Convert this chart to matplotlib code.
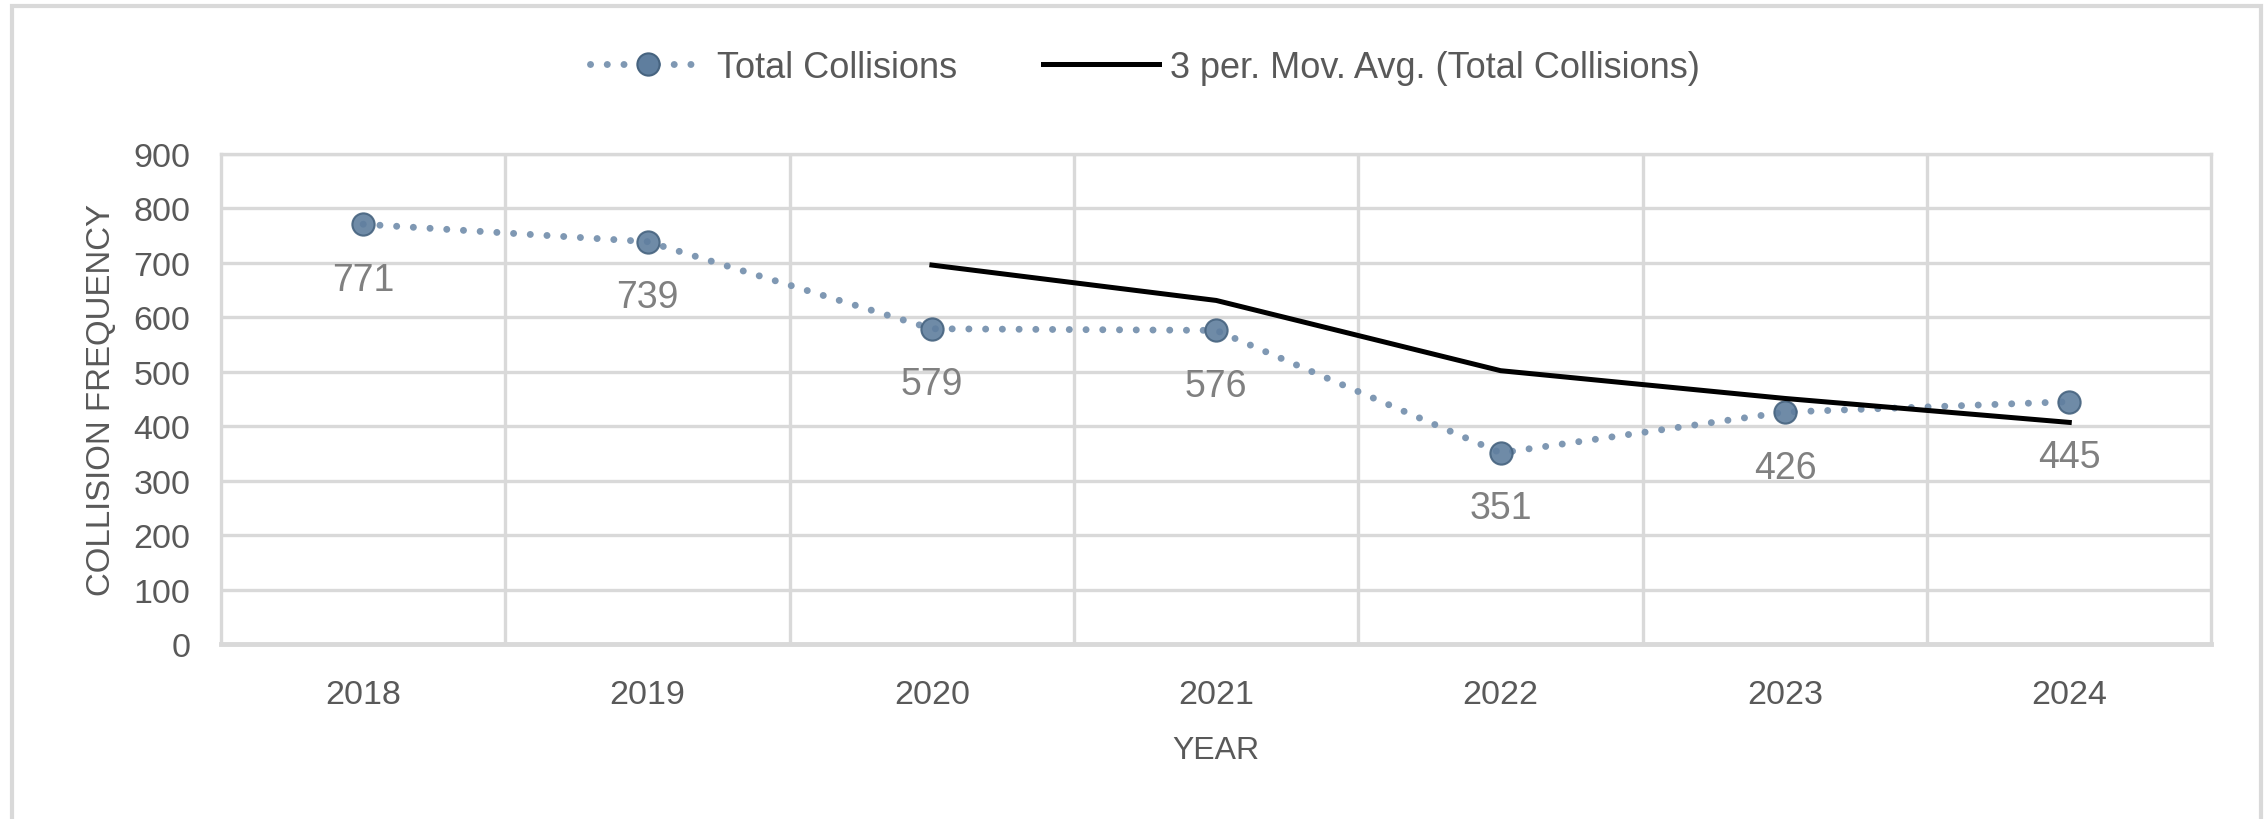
import matplotlib
matplotlib.use("Agg")
import matplotlib.pyplot as plt
from matplotlib.patches import Rectangle
from matplotlib.lines import Line2D

plt.rcParams['font.family'] = ['Liberation Sans', 'DejaVu Sans']

# data
years = ["2018", "2019", "2020", "2021", "2022", "2023", "2024"]
collisions = [771, 739, 579, 576, 351, 426, 445]
# 3-period moving average, shown from 2020 onwards
mov_avg_years = ["2020", "2021", "2022", "2023", "2024"]
mov_avg = [696, 631, 502, 451, 407]
yticks = [0, 100, 200, 300, 400, 500, 600, 700, 800, 900]

GRID = "#d9d9d9"
DOT = "#7f98b3"
MARK_FACE = "#5f7e9e"
MARK_EDGE = "#46637f"

fig = plt.figure(figsize=(22.67, 8.2), dpi=100)
ax = fig.add_axes([0.0975, 0.2134, 0.878, 0.5976])

xs = list(range(len(years)))
ma_xs = [years.index(y) for y in mov_avg_years]

ax.plot(xs, collisions, color=DOT, linewidth=5, linestyle=(0, (0.01, 2.4)),
        dash_capstyle='round', zorder=3)
ax.plot(xs, collisions, linestyle='none', marker='o', markersize=16,
        markerfacecolor=MARK_FACE, markeredgecolor=MARK_EDGE,
        markeredgewidth=1.5, alpha=0.9, zorder=4)
ax.plot(ma_xs, mov_avg, color='black', linewidth=3.6, zorder=5)

for x, v in zip(xs, collisions):
    ax.annotate(str(v), (x, v), xytext=(0, -40), textcoords='offset points',
                ha='center', va='center', fontsize=27, color='#808080')

ax.set_xlim(-0.5, len(years) - 0.5)
ax.set_ylim(0, 900)
ax.set_yticks(yticks)
ax.set_xticks(xs)
ax.set_xticklabels(years)
ax.set_xticks([i + 0.5 for i in range(len(years) - 1)], minor=True)

ax.grid(True, axis='y', color=GRID, linewidth=2.4, zorder=0)
ax.grid(True, axis='x', which='minor', color=GRID, linewidth=2.4, zorder=0)
ax.set_axisbelow(True)
for s in ax.spines.values():
    s.set_color(GRID)
    s.set_linewidth(2.4)
ax.spines['bottom'].set_linewidth(3.5)

ax.tick_params(axis='both', which='both', length=0, colors='#595959',
               labelsize=24.5)
ax.tick_params(axis='y', pad=22)
ax.tick_params(axis='x', pad=25)

ax.set_ylabel("COLLISION FREQUENCY", fontsize=23.8, color='#595959', labelpad=12)
ax.set_xlabel("YEAR", fontsize=23, color='#595959', labelpad=18)

h1 = Line2D([], [], color=DOT, linewidth=5, linestyle=(0, (0.01, 2.4)),
            dash_capstyle='round', marker='o', markersize=16,
            markerfacecolor=MARK_FACE, markeredgecolor=MARK_EDGE,
            markeredgewidth=1.5)
h2 = Line2D([], [], color='black', linewidth=3.6)
leg = fig.legend([h1, h2], ["Total Collisions", "3 per. Mov. Avg. (Total Collisions)"],
                 loc='center', bbox_to_anchor=(0.505, 1 - 68 / 820), ncol=2,
                 frameon=False, fontsize=26, handlelength=3.2,
                 handletextpad=0.3, columnspacing=2.4, labelcolor='#595959')

# outer chart frame
fig.patches.append(Rectangle((12 / 2267, -0.05), 2249 / 2267, 1.05 - 7 / 820,
                             transform=fig.transFigure, fill=False,
                             edgecolor=GRID, linewidth=3, zorder=0))

fig.savefig("out.png", dpi=100)
